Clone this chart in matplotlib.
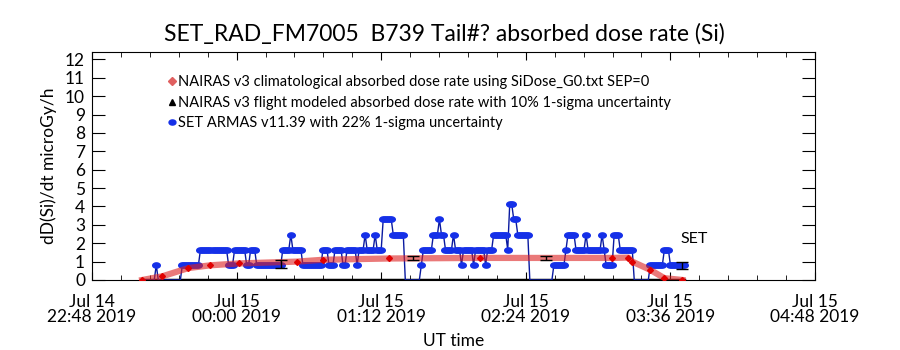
import matplotlib
matplotlib.use("Agg")
import matplotlib.pyplot as plt
import numpy as np

# minutes after Jul 14 22:48 UT
x_ticks = [0, 72, 144, 216, 288, 360]
x_labels = ["Jul 14\n22:48 2019", "Jul 15\n00:00 2019", "Jul 15\n01:12 2019",
            "Jul 15\n02:24 2019", "Jul 15\n03:36 2019", "Jul 15\n04:48 2019"]
y_ticks = list(range(0, 13))

# SET ARMAS dose rate, read as runs: start minute and level
armas_start = [25, 32, 33, 45, 54, 68, 71, 77, 79, 82, 95, 99, 100, 105, 115, 118,
               121, 125, 127, 132, 133, 136, 137, 141, 142, 145, 150, 156, 164, 165,
               170, 173, 174, 176, 180, 181, 184, 185, 190, 191, 196, 197, 200, 207,
               208, 210, 212, 218, 230, 236, 237, 241, 246, 247, 254, 255, 256, 260,
               263, 270, 278, 285, 288]
armas_level = [0, .82, 0, .82, 1.65, .82, 1.65, .82, 1.65, .82, 1.65, 2.47, 1.65, .82,
               1.65, .82, 1.65, .82, 1.65, .82, 1.65, 2.47, 1.65, 2.47, 1.65, 3.3, 2.47,
               0, .82, 1.65, 2.47, 3.3, 2.47, 1.65, 2.47, 1.65, .82, 1.65, .82, 1.65,
               .82, 1.65, 2.47, 1.65, 4.12, 3.3, 2.47, 0, .82, 1.65, 2.47, 1.65, 2.47,
               1.65, 2.47, 1.65, .82, 2.47, 1.65, 0, .82, 1.65, .82]
armas_end = 296

# NAIRAS climatological
nairas_t = [25, 35, 48, 59, 73, 102, 115, 148, 193, 259, 267, 269, 278, 285, 294]
nairas_v = [0, 0.2, 0.65, 0.8, 0.9, 1.0, 1.1, 1.17, 1.2, 1.2, 1.22, 1.0, 0.55, 0.1, 0]

# NAIRAS flight modeled (sits on zero) and the error bars
flight_t = [25, 295]
flight_v = [0, 0]
err_t = [94, 160, 226, 294]
err_v = [0.86, 1.18, 1.18, 0.79]
err_s = [0.23, 0.11, 0.11, 0.19]

# expand runs into one-minute samples
ends = armas_start[1:] + [armas_end]
armas_t = np.concatenate([np.arange(s, e) for s, e in zip(armas_start, ends)])
armas_v = np.concatenate([np.full(e - s, v) for s, e, v in zip(armas_start, ends, armas_level)])

# wide blob like the IDL symbol
ang = np.linspace(0, 2 * np.pi, 30)
blob = np.column_stack([1.35 * np.cos(ang), np.sin(ang)])

plt.rcParams['font.family'] = ['Lato', 'DejaVu Sans']
fig = plt.figure(figsize=(9, 3.5), dpi=100)
ax = fig.add_axes([92/900, 70/350, 723/900, 228/350])

ax.plot(flight_t, flight_v, color='black', lw=2.5, zorder=2)
ax.plot(armas_t, armas_v, color='#0a1aa0', lw=1, marker=blob, ms=6.5,
        mfc='#1530e8', mec='#1530e8', mew=0, markevery=list(np.nonzero(armas_v)[0]),
        zorder=3)
ax.plot(nairas_t, nairas_v, color='#dd2020', alpha=0.6, lw=4.5, zorder=4)
ax.plot(nairas_t, nairas_v, ls='none', marker='D', ms=3, color='#e00000', zorder=5)
ax.errorbar(err_t, err_v, yerr=err_s, fmt='none', ecolor='black', elinewidth=1,
            capsize=4, capthick=1, zorder=6)

# legend handles in the original order
h_clim = plt.Line2D([], [], ls='none', marker='D', ms=4, color='#e06060')
h_flight = plt.Line2D([], [], ls='none', marker='^', ms=4, color='black')
h_armas = plt.Line2D([], [], ls='none', marker=blob, ms=5, color='#1530e8')
ax.legend([h_clim, h_flight, h_armas],
          ["NAIRAS v3 climatological absorbed dose rate using SiDose_G0.txt SEP=0",
           "NAIRAS v3 flight modeled absorbed dose rate with 10% 1-sigma uncertainty",
           "SET ARMAS v11.39 with 22% 1-sigma uncertainty"],
          loc='upper left', bbox_to_anchor=(0.095, 0.93), frameon=False,
          fontsize=10.5, handlelength=0.6, handletextpad=0.1, labelspacing=0.45,
          borderpad=0)

ax.text(293, 2.23, "SET", fontsize=11.5, va='center', ha='left')

ax.set_xlim(0, 360)
ax.set_ylim(0, 12.4)
ax.set_xticks(x_ticks)
ax.set_xticklabels(x_labels, fontsize=12.5, linespacing=0.9)
ax.set_xticks(np.arange(0, 361, 14.4), minor=True)
ax.set_yticks(y_ticks)
ax.set_yticklabels([str(v) for v in y_ticks], fontsize=12.5)
ax.tick_params(axis='x', which='major', direction='in', length=6, top=True, pad=10)
ax.tick_params(axis='x', which='minor', direction='in', length=3.5, top=True)
ax.tick_params(axis='y', which='major', direction='in', length=9.5, right=True, pad=5)

ax.set_title("SET_RAD_FM7005  B739 Tail#? absorbed dose rate (Si)", fontsize=16.5,
             pad=8, x=0.488)
ax.set_xlabel("UT time", fontsize=12.5, labelpad=6)
ax.set_ylabel("dD(Si)/dt microGy/h", fontsize=12.5, labelpad=6)

fig.savefig("out.png", dpi=100)
